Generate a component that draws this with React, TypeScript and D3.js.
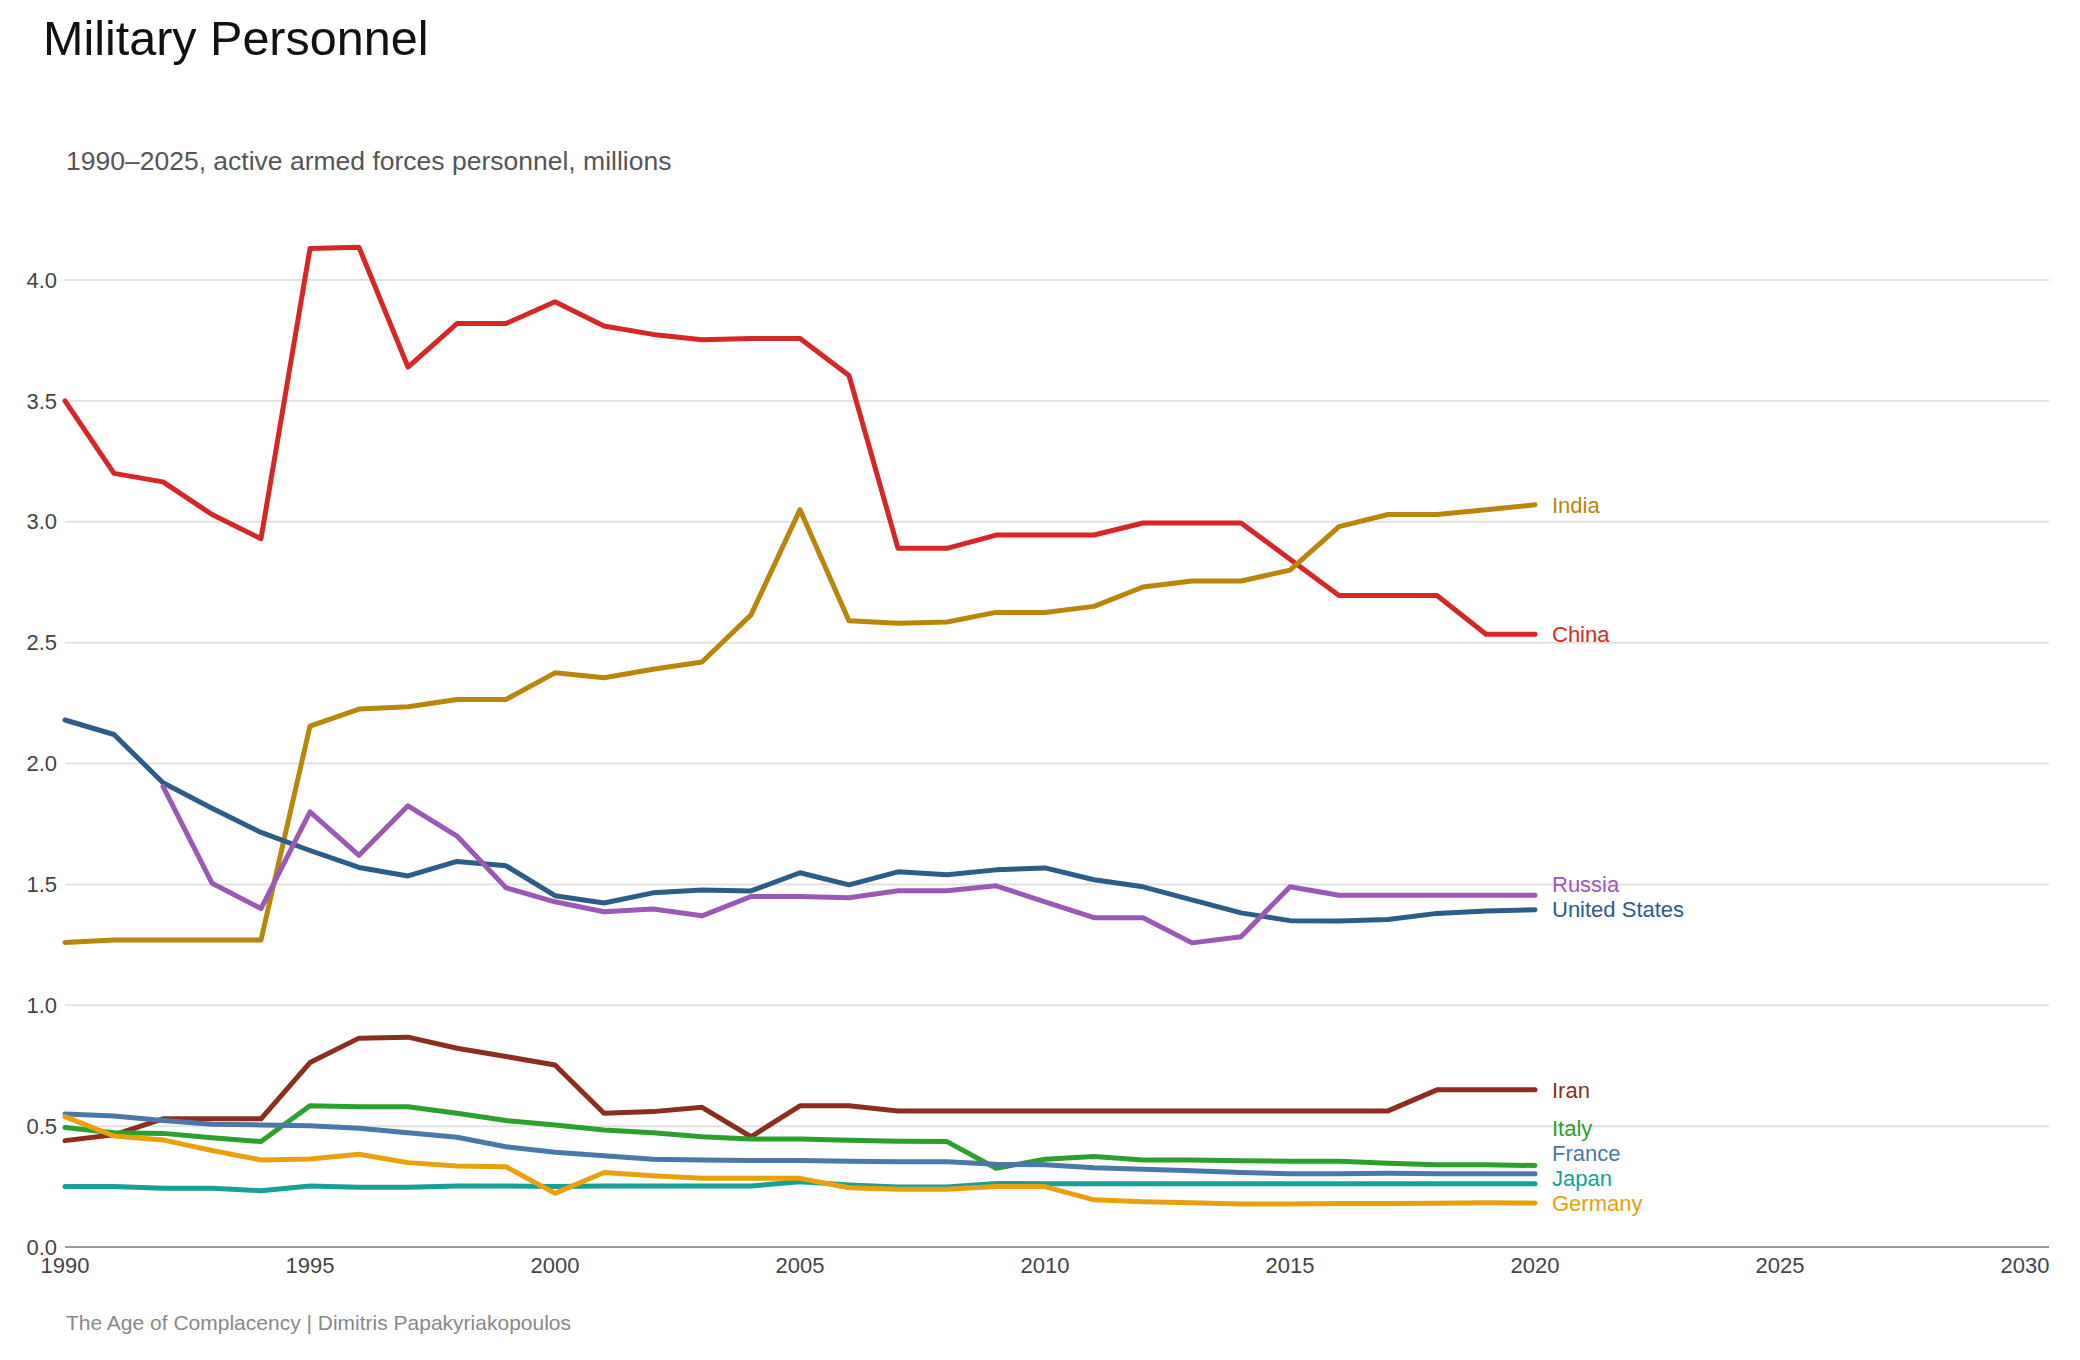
import React, { useRef, useEffect } from "react";
import * as d3 from "d3";

const years = [
  1990, 1991, 1992, 1993, 1994, 1995, 1996, 1997, 1998, 1999, 2000, 2001, 2002, 2003, 2004, 2005,
  2006, 2007, 2008, 2009, 2010, 2011, 2012, 2013, 2014, 2015, 2016, 2017, 2018, 2019, 2020,
];

const china = [
  3.5, 3.2, 3.165, 3.03, 2.93, 4.13, 4.135, 3.64, 3.82, 3.82, 3.91, 3.81, 3.775, 3.753, 3.758, 3.758,
  3.605, 2.89, 2.89, 2.945, 2.945, 2.945, 2.995, 2.995, 2.995, 2.845, 2.695, 2.695, 2.695, 2.535, 2.535,
];
const india = [
  1.26, 1.27, 1.27, 1.27, 1.27, 2.155, 2.225, 2.235, 2.265, 2.265, 2.375, 2.355, 2.39, 2.42, 2.615, 3.05,
  2.59, 2.58, 2.585, 2.625, 2.625, 2.65, 2.73, 2.755, 2.755, 2.8, 2.98, 3.03, 3.03, 3.05, 3.07,
];
const unitedStates = [
  2.18, 2.12, 1.92, 1.815, 1.715, 1.64, 1.57, 1.535, 1.595, 1.577, 1.453, 1.423, 1.465, 1.477, 1.473, 1.548,
  1.498, 1.552, 1.54, 1.56, 1.568, 1.519, 1.49, 1.436, 1.382, 1.35, 1.348, 1.355, 1.38, 1.39, 1.395,
];
const russia = [
  null, null, 1.905, 1.505, 1.4, 1.8, 1.62, 1.825, 1.7, 1.486, 1.428, 1.387, 1.398, 1.37, 1.45, 1.45,
  1.445, 1.474, 1.474, 1.494, 1.428, 1.362, 1.362, 1.258, 1.283, 1.49, 1.455, 1.455, 1.455, 1.455, 1.455,
];
const iran = [
  0.44, 0.464, 0.53, 0.53, 0.53, 0.763, 0.864, 0.868, 0.822, 0.788, 0.753, 0.553, 0.56, 0.578, 0.456, 0.584,
  0.584, 0.563, 0.563, 0.563, 0.563, 0.563, 0.563, 0.563, 0.563, 0.563, 0.563, 0.563, 0.65, 0.65, 0.65,
];
const italy = [
  0.494, 0.473, 0.47, 0.452, 0.436, 0.584, 0.58, 0.58, 0.553, 0.523, 0.505, 0.484, 0.473, 0.456, 0.447, 0.447,
  0.442, 0.437, 0.436, 0.326, 0.363, 0.374, 0.36, 0.36, 0.357, 0.355, 0.355, 0.346, 0.34, 0.34, 0.337,
];
const france = [
  0.55, 0.542, 0.523, 0.508, 0.505, 0.502, 0.491, 0.473, 0.454, 0.415, 0.392, 0.377, 0.363, 0.36, 0.358, 0.358,
  0.355, 0.353, 0.353, 0.342, 0.34, 0.328, 0.322, 0.315, 0.308, 0.303, 0.303, 0.305, 0.303, 0.303, 0.303,
];
const japan = [
  0.25, 0.25, 0.243, 0.243, 0.233, 0.252, 0.247, 0.247, 0.252, 0.252, 0.25, 0.252, 0.252, 0.252, 0.252, 0.27,
  0.257, 0.248, 0.248, 0.263, 0.262, 0.262, 0.262, 0.262, 0.262, 0.262, 0.262, 0.262, 0.262, 0.262, 0.262,
];
const germany = [
  0.539, 0.459, 0.443, 0.399, 0.36, 0.364, 0.384, 0.349, 0.335, 0.332, 0.222, 0.308, 0.295, 0.284, 0.284, 0.284,
  0.245, 0.239, 0.239, 0.25, 0.25, 0.195, 0.187, 0.183, 0.178, 0.178, 0.18, 0.18, 0.181, 0.183, 0.182,
];

const seriesNames = ["China", "India", "United States", "Russia", "Iran", "Italy", "France", "Japan", "Germany"];
const seriesValues = [china, india, unitedStates, russia, iran, italy, france, japan, germany];
const seriesColors = [
  "#d62728", "#b8860b", "#2b5d87", "#9b59b6", "#8b2e1e", "#2ca02c", "#4a78a8", "#17a096", "#e8a10c",
];

const yTicks = [0, 0.5, 1, 1.5, 2, 2.5, 3, 3.5, 4];
const xTicks = [1990, 1995, 2000, 2005, 2010, 2015, 2020, 2025, 2030];

const FONT = "'Liberation Sans', Arial, Helvetica, sans-serif";

const App = () => {
  const svgRef = useRef(null);

  useEffect(() => {
    const svg = d3.select(svgRef.current);
    svg.selectAll("*").remove();
    const width = 2080;
    const height = 1360;

    const x = d3.scaleLinear().domain([1990, 2030]).range([65, 2025]);
    const y = d3.scaleLinear().domain([0, 4]).range([1247, 280]);

    svg.attr("width", width).attr("height", height);

    // title + subtitle
    svg.append("text")
      .attr("x", 43).attr("y", 55)
      .style("font-family", FONT).style("font-size", "48.5px").style("fill", "#111")
      .text("Military Personnel");
    svg.append("text")
      .attr("x", 66).attr("y", 170)
      .style("font-family", FONT).style("font-size", "26.5px").style("fill", "#555")
      .text("1990–2025, active armed forces personnel, millions");

    // gridlines
    const gridRight = x(2030) + 24;
    svg.append("g")
      .selectAll("line")
      .data(yTicks.filter((d) => d > 0))
      .enter()
      .append("line")
      .attr("x1", x(1990)).attr("x2", gridRight)
      .attr("y1", (d) => y(d)).attr("y2", (d) => y(d))
      .attr("stroke", "#e2e2e2").attr("stroke-width", 2);

    // x axis line
    svg.append("line")
      .attr("x1", x(1990)).attr("x2", gridRight)
      .attr("y1", y(0)).attr("y2", y(0))
      .attr("stroke", "#999").attr("stroke-width", 2);

    // y tick labels
    svg.append("g")
      .selectAll("text")
      .data(yTicks)
      .enter()
      .append("text")
      .attr("x", 57).attr("y", (d) => y(d))
      .attr("dy", "0.35em").attr("text-anchor", "end")
      .style("font-family", FONT).style("font-size", "22px").style("fill", "#444")
      .text((d) => d3.format(".1f")(d));

    // x tick labels
    svg.append("g")
      .selectAll("text")
      .data(xTicks)
      .enter()
      .append("text")
      .attr("x", (d) => x(d)).attr("y", 1273)
      .attr("text-anchor", "middle")
      .style("font-family", FONT).style("font-size", "22px").style("fill", "#444")
      .text((d) => d);

    const line = d3
      .line<number | null>()
      .defined((d) => d != null)
      .x((d, i) => x(years[i]))
      .y((d) => y(d as number));

    seriesValues.forEach((vals, i) => {
      svg.append("path")
        .datum(vals)
        .attr("fill", "none")
        .attr("stroke", seriesColors[i])
        .attr("stroke-width", 5)
        .attr("stroke-linejoin", "round")
        .attr("stroke-linecap", "round")
        .attr("d", line);
    });

    // end labels, pushed apart from the bottom up
    const labels = seriesNames
      .map((name, i) => ({ name, color: seriesColors[i], y: y(seriesValues[i][seriesValues[i].length - 1] as number) }))
      .sort((a, b) => b.y - a.y);
    let prev = Infinity;
    labels.forEach((l) => {
      l.y = Math.min(l.y, prev - 25);
      prev = l.y;
    });

    svg.append("g")
      .selectAll("text")
      .data(labels)
      .enter()
      .append("text")
      .attr("x", x(2020) + 17).attr("y", (d) => d.y)
      .attr("dy", "0.35em")
      .style("font-family", FONT).style("font-size", "22px").style("fill", (d) => d.color)
      .text((d) => d.name);

    // footer
    svg.append("text")
      .attr("x", 66).attr("y", 1330)
      .style("font-family", FONT).style("font-size", "21px").style("fill", "#888")
      .text("The Age of Complacency | Dimitris Papakyriakopoulos");
  }, []);

  return <svg ref={svgRef} style={{ position: "absolute", left: 0, top: 0 }}></svg>;
};

export default App;
